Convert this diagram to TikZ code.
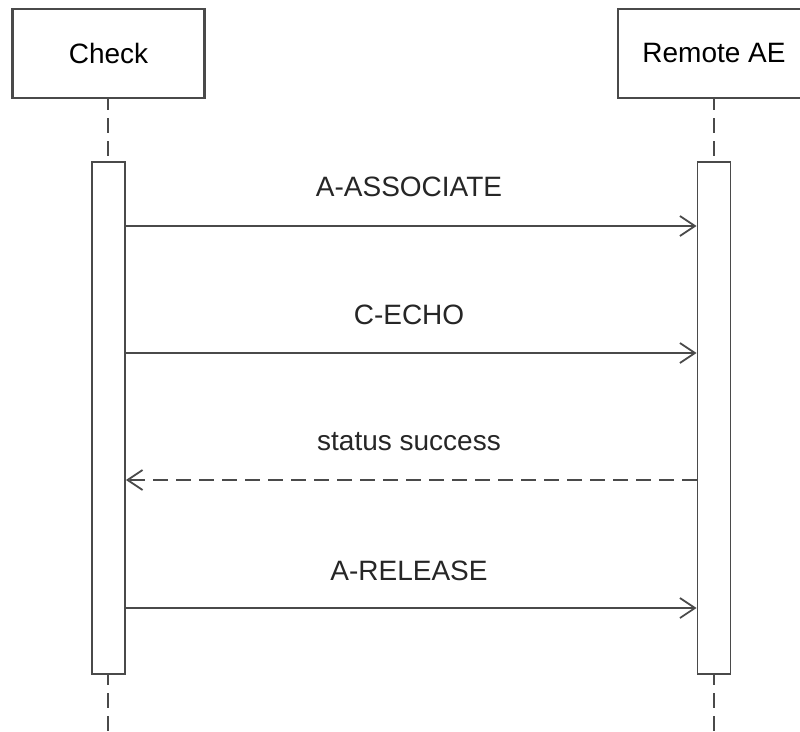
\documentclass[tikz,border=0pt]{standalone}
\usepackage{fontspec}
\setmainfont{Liberation Sans}
\usetikzlibrary{arrows.meta}
\definecolor{ln}{HTML}{4A4A4A}
\begin{document}
\begin{tikzpicture}[x=1pt,y=-1pt,
  actor/.style={draw=ln,line width=2.2pt,fill=white,minimum width=192pt,minimum height=89pt,inner sep=0pt,font=\fontsize{28}{30}\selectfont},
  actbar/.style={draw=ln,line width=1.8pt,fill=white,minimum width=33pt,minimum height=512pt,inner sep=0pt},
  life/.style={draw=ln,line width=1.8pt,dash pattern=on 15pt off 8pt,dash phase=3pt},
  msg/.style={draw=ln,line width=1.8pt,-{Straight Barb[length=15pt,width=20pt,line width=1.8pt]}},
  rmsg/.style={msg,dash pattern=on 15pt off 8pt},
  lbl/.style={font=\fontsize{28}{30}\selectfont,text=black!85,inner sep=0pt}]
\useasboundingbox (0,0) rectangle (800,731);
\begin{scope}
\clip (0,0) rectangle (800,731);
% lifelines
\coordinate (l1top) at (108,98);
\coordinate (l1bot) at (108,731);
\coordinate (l2top) at (714,98);
\coordinate (l2bot) at (714,731);
\draw[life] (l1top) -- (l1bot);
\draw[life] (l2top) -- (l2bot);
\node[actor] (check) at (108.5,53.5) {Check};
\node[actor] (remote) at (714,53.5) {Remote AE};
\node[actbar] (b1) at (108.5,418) {};
\node[actbar] (b2) at (714,418) {};
% messages
\coordinate (s1) at (b1.east |- 0,226); \coordinate (e1) at (b2.west |- 0,226);
\coordinate (s2) at (b1.east |- 0,353); \coordinate (e2) at (b2.west |- 0,353);
\coordinate (s3) at (b2.west |- 0,480); \coordinate (e3) at (b1.east |- 0,480);
\coordinate (s4) at (b1.east |- 0,608); \coordinate (e4) at (b2.west |- 0,608);
\draw[msg] (s1) -- (e1);
\draw[msg] (s2) -- (e2);
\draw[rmsg] (s3) -- (e3);
\draw[msg] (s4) -- (e4);
\node[lbl] (t1) at (409,187) {A-ASSOCIATE};
\node[lbl] (t2) at (409,315) {C-ECHO};
\node[lbl] (t3) at (409,442) {status success};
\node[lbl] (t4) at (409,571) {A-RELEASE};
\end{scope}
\end{tikzpicture}
\end{document}
